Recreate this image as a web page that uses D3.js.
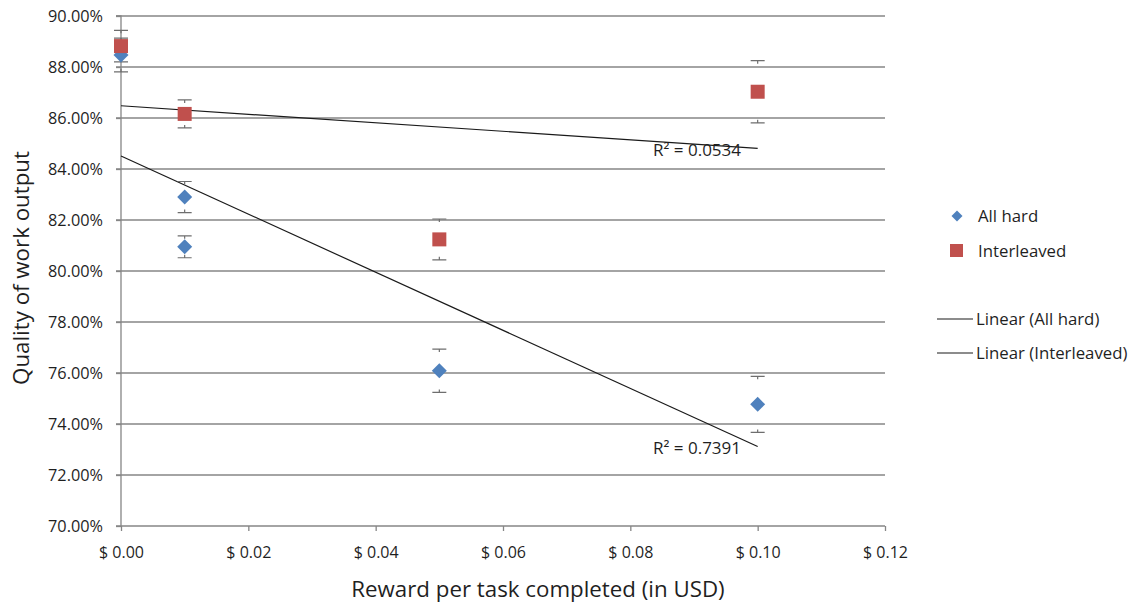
<!DOCTYPE html>
<html><head><meta charset="utf-8">
<script src="https://cdn.jsdelivr.net/npm/d3@7"></script>
<style>body{margin:0;background:#fff}svg{display:block}text{font-family:"Open Sans",Lato,sans-serif}</style>
</head><body>
<script>
// ---- data ----
const allHardX = [0, 0.01, 0.01, 0.05, 0.10];
const allHardY = [88.47, 82.90, 80.95, 76.09, 74.77];
const allHardErr = [0.66, 0.61, 0.43, 0.85, 1.10];
const interX = [0, 0.01, 0.05, 0.10];
const interY = [88.82, 86.16, 81.24, 87.03];
const interErr = [0.62, 0.55, 0.80, 1.22];
const xTicks = [0, 0.02, 0.04, 0.06, 0.08, 0.10, 0.12];
const yTicks = [70, 72, 74, 76, 78, 80, 82, 84, 86, 88, 90];
const r2Labels = ["R\u00B2 = 0.7391", "R\u00B2 = 0.0534"];
const legendLabels = ["All hard", "Interleaved", "Linear (All hard)", "Linear (Interleaved)"];

const W = 1138, H = 603;
const svg = d3.select("body").append("svg").attr("width", W).attr("height", H);
const x = d3.scaleLinear().domain([0, 0.12]).range([121, 885]);
const y = d3.scaleLinear().domain([70, 90]).range([526, 16]);
const gridC = "#868686", txtC = "#1f1f1f";
const FONT = '"Open Sans", Lato, sans-serif';

// gridlines
svg.append("g").selectAll("line").data(yTicks.filter(d => d > 70)).join("line")
  .attr("x1", 116).attr("x2", 885).attr("y1", d => y(d)).attr("y2", d => y(d))
  .attr("stroke", gridC).attr("stroke-width", 1.3);

// y axis
const yAxis = svg.append("g").attr("transform", "translate(121,0)")
  .call(d3.axisLeft(y).tickValues(yTicks).tickSize(5).tickPadding(13).tickFormat(d => d.toFixed(2) + "%"));
yAxis.select(".domain").attr("stroke", gridC).attr("stroke-width", 1.3).attr("d", `M-5,${y(90)}H0V${y(70)}H-5`);
yAxis.selectAll(".tick line").attr("stroke", gridC).attr("stroke-width", 1.3);
yAxis.selectAll("text").attr("fill", txtC).style("font-size", "16.3px").style("font-family", FONT);

// x axis
const xAxis = svg.append("g").attr("transform", "translate(0,526)")
  .call(d3.axisBottom(x).tickValues(xTicks).tickSize(5).tickPadding(16).tickFormat(d => "$ " + d.toFixed(2)));
xAxis.select(".domain").attr("stroke", gridC).attr("stroke-width", 1.3).attr("d", `M${x(0)},0H${x(0.12)}`);
xAxis.selectAll(".tick line").attr("stroke", gridC).attr("stroke-width", 1.3);
xAxis.selectAll("text").attr("fill", txtC).style("font-size", "16px").style("font-family", FONT);

// axis titles
svg.append("text").attr("x", 538).attr("y", 597).attr("text-anchor", "middle")
  .attr("fill", txtC).style("font-size", "22.3px").text("Reward per task completed (in USD)");
svg.append("text").attr("transform", "translate(29,268) rotate(-90)").attr("text-anchor", "middle")
  .attr("fill", txtC).style("font-size", "22.3px").text("Quality of work output");

// regression
function fit(xs, ys) {
  const mx = d3.mean(xs), my = d3.mean(ys);
  let sxy = 0, sxx = 0;
  xs.forEach((v, i) => { sxy += (v - mx) * (ys[i] - my); sxx += (v - mx) ** 2; });
  const b = sxy / sxx; return { a: my - b * mx, b };
}
const fits = [fit(allHardX, allHardY), fit(interX, interY)];
const ext = [d3.min(allHardX), d3.max(allHardX)];
svg.append("g").selectAll("line").data(fits).join("line")
  .attr("x1", x(ext[0])).attr("x2", x(ext[1]))
  .attr("y1", f => y(f.a + f.b * ext[0])).attr("y2", f => y(f.a + f.b * ext[1]))
  .attr("stroke", "#1a1a1a").attr("stroke-width", 1.2);

// R² labels
svg.append("text").attr("x", 653).attr("y", 454).attr("fill", txtC).style("font-size", "17px").text(r2Labels[0]);
svg.append("text").attr("x", 653).attr("y", 156).attr("fill", txtC).style("font-size", "17px").text(r2Labels[1]);

// error bars
function errBars(xs, ys, es) {
  const g = svg.append("g").attr("stroke", "#6e6e6e").attr("stroke-width", 1.2).attr("fill", "none");
  xs.forEach((v, i) => {
    const cx = x(v), top = y(ys[i] + es[i]), bot = y(ys[i] - es[i]);
    g.append("path").attr("d", `M${cx - 7},${top}H${cx + 7}M${cx},${top}V${top + 3}M${cx - 7},${bot}H${cx + 7}M${cx},${bot}V${bot - 3}`);
  });
}
errBars(allHardX, allHardY, allHardErr);
errBars(interX, interY, interErr);

// markers
const diamond = "M0,-7.5L7.5,0L0,7.5L-7.5,0Z";
svg.append("g").selectAll("path").data(allHardX.map((v, i) => [v, allHardY[i]])).join("path")
  .attr("d", diamond).attr("transform", d => `translate(${x(d[0])},${y(d[1])})`).attr("fill", "#4F81BD");
svg.append("g").selectAll("rect").data(interX.map((v, i) => [v, interY[i]])).join("rect")
  .attr("x", d => x(d[0]) - 7).attr("y", d => y(d[1]) - 7).attr("width", 14).attr("height", 14).attr("fill", "#C0504D");

// legend
const lg = svg.append("g");
lg.append("path").attr("d", "M0,-5.5L5.5,0L0,5.5L-5.5,0Z").attr("transform", "translate(957,216)").attr("fill", "#4F81BD");
lg.append("rect").attr("x", 950).attr("y", 244).attr("width", 13).attr("height", 13).attr("fill", "#C0504D");
lg.append("line").attr("x1", 937).attr("x2", 973).attr("y1", 319).attr("y2", 319).attr("stroke", "#1a1a1a").attr("stroke-width", 1.2);
lg.append("line").attr("x1", 937).attr("x2", 973).attr("y1", 353).attr("y2", 353).attr("stroke", "#1a1a1a").attr("stroke-width", 1.2);
const ly = [216, 251, 319, 353];
const lx = [978, 978, 976, 976];
lg.selectAll("text").data(legendLabels).join("text")
  .attr("x", (d, i) => lx[i]).attr("y", (d, i) => ly[i]).attr("dy", "0.35em")
  .attr("fill", txtC).style("font-size", "16.8px").text(d => d);
</script>
</body></html>
